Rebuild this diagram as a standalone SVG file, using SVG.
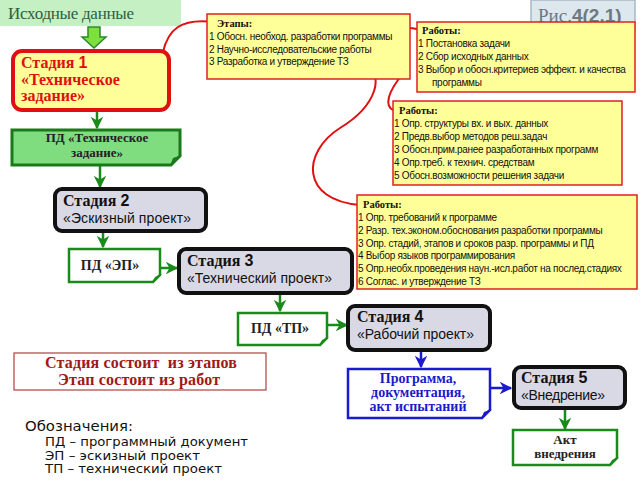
<svg xmlns="http://www.w3.org/2000/svg" width="640" height="480" viewBox="0 0 640 480">
<style>
.stage{fill:#d9d9e6;stroke:#111;stroke-width:4}
.note{fill:#ffff99;stroke:#e02020;stroke-width:1.5}
.gline{stroke:#1a8a1a;stroke-width:2.5;fill:none}
.bline{stroke:#1a1ad0;stroke-width:2.5;fill:none}
.rline{stroke:#e01010;stroke-width:2;fill:none}
.doc{fill:#fff;stroke:#1a8a1a;stroke-width:2.5}
.nt{letter-spacing:-0.3px}
</style>
<defs>
<marker id="ag" viewBox="0 0 10 10" refX="9" refY="5" markerWidth="5" markerHeight="5" orient="auto" markerUnits="strokeWidth">
<path d="M0,0 L10,5 L0,10 L3,5 z" fill="#1a8a1a"/>
</marker>
<marker id="ab" viewBox="0 0 10 10" refX="9" refY="5" markerWidth="5" markerHeight="5" orient="auto" markerUnits="strokeWidth">
<path d="M0,0 L10,5 L0,10 L3,5 z" fill="#1a1ad0"/>
</marker>
</defs>

<g id="source">
<rect x="0" y="0" width="181" height="26" fill="#c4f0c4"/>
<text x="8" y="19" font-family="'Liberation Serif', 'Times New Roman', serif" font-size="17" fill="#2f5f3f" textLength="126">Исходные данные</text>
</g>

<g id="fig">
<rect x="531" y="0" width="104" height="30" fill="#dde7ee" stroke="#a8b8c8" stroke-width="1.5"/>
<text x="538" y="22" fill="#6f7880" font-size="19"><tspan font-family="'Liberation Serif', serif">Рис.</tspan><tspan font-family="'Liberation Sans', Arial, sans-serif" font-weight="bold">4(2.1)</tspan></text>
</g>

<g id="connectors">
<polygon points="88,27 100,27 100,37 106,37 94,48 82,37 88,37" fill="#7de03c" stroke="#2a8a2a" stroke-width="1.5"/>
<line x1="97" y1="111" x2="97" y2="128" class="gline" marker-end="url(#ag)"/>
<line x1="100" y1="166" x2="100" y2="187" class="gline" marker-end="url(#ag)"/>
<line x1="103" y1="232" x2="103" y2="247" class="gline" marker-end="url(#ag)"/>
<line x1="160" y1="268" x2="177" y2="268" class="gline" marker-end="url(#ag)"/>
<line x1="280" y1="294" x2="280" y2="311" class="gline" marker-end="url(#ag)"/>
<line x1="328" y1="325" x2="347" y2="325" class="gline" marker-end="url(#ag)"/>
<line x1="421" y1="351" x2="421" y2="367" class="bline" marker-end="url(#ab)"/>
<line x1="491" y1="388" x2="511" y2="388" class="bline" marker-end="url(#ab)"/>
<line x1="565" y1="409" x2="565" y2="429" class="gline" marker-end="url(#ag)"/>
<path class="rline" d="M163,52 C168,30 180,18 214,22"/>
<path class="rline" d="M390,38 C398,26 405,26 421,30"/>
<path class="rline" d="M372,51 C400,52 408,66 398,80 C385,98 385,110 398,111"/>
<path class="rline" d="M364,67 C385,72 378,105 340,128 C302,152 300,200 360,205"/>
</g>

<g id="stage1">
<rect x="13" y="51" width="156" height="59" rx="9" fill="#ffff99" stroke="#e01010" stroke-width="4"/>
<text font-family="'Liberation Serif', 'Times New Roman', serif" font-weight="bold" font-size="16" fill="#e01010"><tspan x="21" y="68">Стадия <tspan font-family="'Liberation Sans', Arial, sans-serif" font-weight="900">1</tspan></tspan><tspan x="21" y="85">«Техническое</tspan><tspan x="21" y="101">задание»</tspan></text>
</g>

<g id="pd-tz">
<path d="M12,130 L180,130 L180,156 L171,165 L12,165 z" fill="#7fdc7f" stroke="#1a7a1a" stroke-width="3"/>
<path d="M170,166 L182,155 L173,158 z" fill="#1a7a1a"/>
<text font-family="'Liberation Serif', 'Times New Roman', serif" font-weight="bold" font-size="13" fill="#222" text-anchor="middle"><tspan x="97" y="142">ПД «Техническое</tspan><tspan x="97" y="157">задание»</tspan></text>
</g>

<g id="etapy" font-family="'Liberation Sans', Arial, sans-serif" font-size="10" fill="#111">
<rect x="207" y="14" width="203" height="65" class="note"/>
<text x="217" y="27" font-family="'Liberation Serif', serif" font-weight="bold" font-size="10.5">Этапы:</text>
<text class="nt" x="209" y="40">1 Обосн. необход. разработки программы</text>
<text class="nt" x="209" y="53">2 Научно-исследовательские работы</text>
<text class="nt" x="209" y="65">3 Разработка и утверждение ТЗ</text>
</g>

<g id="raboty1" font-family="'Liberation Sans', Arial, sans-serif" font-size="10" fill="#111">
<rect x="417" y="22" width="218" height="70" class="note"/>
<text x="422" y="34" font-family="'Liberation Serif', serif" font-weight="bold" font-size="10.5">Работы:</text>
<text class="nt" x="418" y="47">1 Постановка задачи</text>
<text class="nt" x="418" y="60">2 Сбор исходных данных</text>
<text class="nt" x="418" y="73">3 Выбор и обосн.критериев эффект. и качества</text>
<text class="nt" x="432" y="86">программы</text>
</g>

<g id="raboty2" font-family="'Liberation Sans', Arial, sans-serif" font-size="10" fill="#111">
<rect x="393" y="101" width="229" height="84" class="note"/>
<text x="399" y="114" font-family="'Liberation Serif', serif" font-weight="bold" font-size="10.5">Работы:</text>
<text class="nt" x="394" y="127">1 Опр. структуры вх. и вых. данных</text>
<text class="nt" x="394" y="140">2 Предв.выбор методов реш.задач</text>
<text class="nt" x="394" y="153">3 Обосн.прим.ранее разработанных программ</text>
<text class="nt" x="394" y="166">4 Опр.треб. к технич. средствам</text>
<text class="nt" x="394" y="179">5 Обосн.возможности решения задачи</text>
</g>

<g id="raboty3" font-family="'Liberation Sans', Arial, sans-serif" font-size="10" fill="#111">
<rect x="357" y="195" width="280" height="94" class="note"/>
<text x="363" y="208" font-family="'Liberation Serif', serif" font-weight="bold" font-size="10.5">Работы:</text>
<text class="nt" x="358" y="221">1 Опр. требований к программе</text>
<text class="nt" x="358" y="234">2 Разр. тех.эконом.обоснования разработки программы</text>
<text class="nt" x="358" y="247">3 Опр. стадий, этапов и сроков разр. программы и ПД</text>
<text class="nt" x="358" y="259">4 Выбор языков программирования</text>
<text class="nt" x="358" y="272">5 Опр.необх.проведения наун.-исл.работ на послед.стадиях</text>
<text class="nt" x="358" y="285">6 Соглас. и утверждение ТЗ</text>
</g>

<g id="stage2">
<rect x="55" y="189" width="151" height="42" rx="7" class="stage"/>
<text x="63" y="206" font-family="'Liberation Serif', 'Times New Roman', serif" font-weight="bold" font-size="16" fill="#111">Стадия <tspan font-family="'Liberation Sans', Arial, sans-serif" font-weight="900">2</tspan></text>
<text x="63" y="223" font-family="'Liberation Sans', Arial, sans-serif" font-size="14" fill="#111" textLength="128">«Эскизный проект»</text>
</g>

<g id="pd-ep">
<path d="M69,249 L160,249 L160,275 L153,282 L69,282 z" class="doc"/>
<path d="M152,283 L162,274 L155,277 z" fill="#1a8a1a"/>
<text x="110" y="270" font-family="'Liberation Serif', 'Times New Roman', serif" font-weight="bold" font-size="14" fill="#222" text-anchor="middle">ПД «ЭП»</text>
</g>

<g id="stage3">
<rect x="179" y="249" width="173" height="44" rx="7" class="stage"/>
<text x="187" y="266" font-family="'Liberation Serif', 'Times New Roman', serif" font-weight="bold" font-size="16" fill="#111">Стадия <tspan font-family="'Liberation Sans', Arial, sans-serif" font-weight="900">3</tspan></text>
<text x="187" y="283" font-family="'Liberation Sans', Arial, sans-serif" font-size="14" fill="#111" textLength="145">«Технический проект»</text>
</g>

<g id="pd-tp">
<path d="M238,313 L327,313 L327,338 L320,345 L238,345 z" class="doc"/>
<path d="M319,346 L329,337 L322,340 z" fill="#1a8a1a"/>
<text x="280" y="333" font-family="'Liberation Serif', 'Times New Roman', serif" font-weight="bold" font-size="14" fill="#222" text-anchor="middle">ПД «ТП»</text>
</g>

<g id="stage4">
<rect x="348" y="306" width="142" height="44" rx="7" class="stage"/>
<text x="357" y="322" font-family="'Liberation Serif', 'Times New Roman', serif" font-weight="bold" font-size="16" fill="#111">Стадия <tspan font-family="'Liberation Sans', Arial, sans-serif" font-weight="900">4</tspan></text>
<text x="357" y="339" font-family="'Liberation Sans', Arial, sans-serif" font-size="14" fill="#111" textLength="117">«Рабочий проект»</text>
</g>

<g id="program">
<path d="M348,369 L490,369 L490,410 L482,418 L348,418 z" fill="#fff" stroke="#1a1ad0" stroke-width="2.5"/>
<path d="M481,419 L492,409 L484,412 z" fill="#1a1ad0"/>
<text font-family="'Liberation Serif', 'Times New Roman', serif" font-weight="bold" font-size="14" fill="#1a1acc" text-anchor="middle"><tspan x="418" y="383">Программа,</tspan><tspan x="418" y="397">документация,</tspan><tspan x="418" y="411">акт испытаний</tspan></text>
</g>

<g id="stage5">
<rect x="514" y="367" width="111" height="41" rx="7" class="stage"/>
<text x="521" y="383" font-family="'Liberation Serif', 'Times New Roman', serif" font-weight="bold" font-size="16" fill="#111">Стадия <tspan font-family="'Liberation Sans', Arial, sans-serif" font-weight="900">5</tspan></text>
<text x="521" y="400" font-family="'Liberation Sans', Arial, sans-serif" font-size="14" fill="#111" textLength="84">«Внедрение»</text>
</g>

<g id="akt">
<path d="M513,430 L617,430 L617,458 L610,465 L513,465 z" class="doc"/>
<path d="M609,466 L619,457 L612,460 z" fill="#1a8a1a"/>
<text font-family="'Liberation Serif', 'Times New Roman', serif" font-weight="bold" font-size="13" fill="#222" text-anchor="middle"><tspan x="565" y="444">Акт</tspan><tspan x="565" y="458">внедрения</tspan></text>
</g>

<g id="rule">
<rect x="14" y="353" width="252" height="37" fill="#fff" stroke="#b04040" stroke-width="1.2"/>
<text x="45" y="368" font-family="'Liberation Serif', 'Times New Roman', serif" font-weight="bold" font-size="16" fill="#a01818" textLength="192" xml:space="preserve">Стадия состоит  из этапов</text>
<text x="58" y="385" font-family="'Liberation Serif', 'Times New Roman', serif" font-weight="bold" font-size="16" fill="#a01818" textLength="162">Этап состоит из работ</text>
</g>

<g id="legend" font-family="'DejaVu Sans', Verdana, sans-serif" fill="#111">
<text font-size="14.5" x="25" y="431" textLength="108" lengthAdjust="spacingAndGlyphs">Обозначения:</text>
<text font-size="11.6" x="45" y="446" textLength="203" lengthAdjust="spacingAndGlyphs">ПД – программный документ</text>
<text font-size="11.6" x="45" y="459.5" textLength="155" lengthAdjust="spacingAndGlyphs">ЭП – эскизный проект</text>
<text font-size="11.6" x="45" y="473" textLength="177" lengthAdjust="spacingAndGlyphs">ТП – технический проект</text>
</g>
</svg>
